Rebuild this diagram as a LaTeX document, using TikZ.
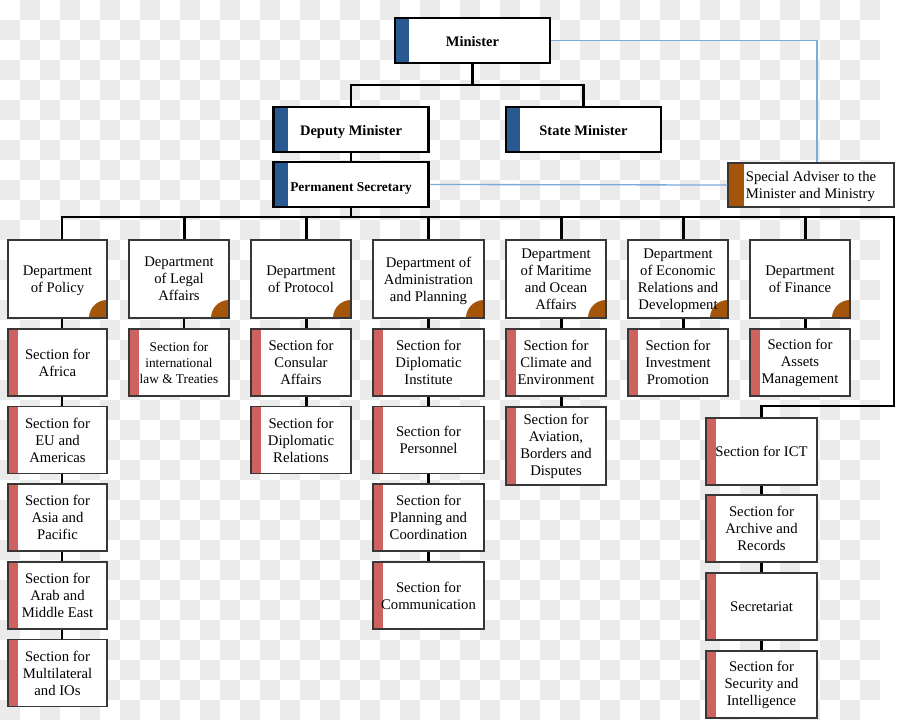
\documentclass[tikz,border=0pt]{standalone}
\usepackage{fontspec}
\setmainfont{Liberation Serif}
\definecolor{chk}{RGB}{235,235,235}
\definecolor{sblue}{RGB}{40,90,145}
\definecolor{sbrown}{RGB}{165,85,10}
\definecolor{sred}{RGB}{205,98,95}
\definecolor{lblue}{RGB}{125,170,220}
\definecolor{bord}{RGB}{55,55,55}
\tikzset{
  topbox/.style={draw=black, line width=2.8pt, fill=white, inner sep=0pt, align=center,
    minimum width=155pt, minimum height=45pt, text height=12pt, text depth=0pt,
    font=\fontsize{14.5}{17}\selectfont\bfseries,
    path picture={\fill[sblue] (path picture bounding box.north west) rectangle ([xshift=14pt]path picture bounding box.south west);}},
  advbox/.style={draw=bord, line width=1.4pt, fill=white, inner sep=0pt, align=left,
    minimum width=166pt, minimum height=44pt, text depth=-1pt,
    font=\fontsize{14.7}{17}\selectfont,
    path picture={\fill[sbrown] (path picture bounding box.north west) rectangle ([xshift=16pt]path picture bounding box.south west);}},
  deptbox/.style={draw=bord, line width=1.4pt, fill=white, inner sep=0pt, align=center,
    minimum width=100pt, minimum height=78pt, text depth=-1.5pt,
    font=\fontsize{14.7}{17}\selectfont,
    path picture={\fill[sbrown] (path picture bounding box.south east) circle[radius=18pt];}},
  secbox/.style={draw=bord, line width=1.4pt, fill=white, inner sep=0pt, align=center,
    minimum width=100pt, minimum height=67pt,
    font=\fontsize{14.7}{17}\selectfont,
    path picture={\fill[sred] (path picture bounding box.north west) rectangle ([xshift=10pt]path picture bounding box.south west);}},
  conn/.style={draw=black, line width=2.6pt},
  advline/.style={draw=lblue, line width=1.3pt},
}
\begin{document}
\begin{tikzpicture}[x=1pt,y=-1pt]
\useasboundingbox (0,0) rectangle (900,720);
% checkerboard background
\fill[white] (0,0) rectangle (900,720);
\foreach \j in {0,...,35}{
  \pgfmathsetmacro\s{mod(\j+1,2)*20}
  \foreach \i in {0,40,...,860}{
    \fill[chk] (\i+\s,\j*20) rectangle ++(20,20);
  }
}
% bus coordinates
\coordinate (yA) at (0,85);
\coordinate (yB) at (0,217);
\coordinate (rb) at (894,217);
\coordinate (rc) at (894,406);

% top level
\node[topbox] (min) at (472.5,40.5) {Minister};
\node[topbox] (dep) at (351,129.5) {Deputy Minister};
\node[topbox] (sta) at (583.5,129.5) {State Minister};
\node[topbox, font=\fontsize{13.4}{16}\selectfont\bfseries, text height=14pt] (ps) at (351,184.5) {Permanent Secretary};
\node[advbox] (adv) at (811,185) {Special Adviser to the\\Minister and Ministry};

% departments
\node[deptbox, minimum width=99pt] (dpol) at (57.5,279) {Department\\of Policy};
\node[deptbox] (dleg) at (179,279) {Department\\of Legal\\Affairs};
\node[deptbox] (dpro) at (301,279) {Department\\of Protocol};
\node[deptbox, minimum width=111pt] (dadm) at (428.5,279) {Department of\\Administration\\and Planning};
\node[deptbox] (dmar) at (556,279) {Department\\of Maritime\\and Ocean\\Affairs};
\node[deptbox] (deco) at (678,279) {Department\\of Economic\\Relations and\\Development};
\node[deptbox] (dfin) at (800,279) {Department\\of Finance};

% policy sections
\node[secbox, minimum width=99pt] (s11) at (57.5,362.5) {Section for\\Africa};
\node[secbox, minimum width=99pt] (s12) at (57.5,440) {Section for\\EU and\\Americas};
\node[secbox, minimum width=99pt] (s13) at (57.5,517.5) {Section for\\Asia and\\Pacific};
\node[secbox, minimum width=99pt] (s14) at (57.5,595.5) {Section for\\Arab and\\Middle East};
\node[secbox, minimum width=99pt] (s15) at (57.5,673) {Section for\\Multilateral\\and IOs};
% legal
\node[secbox, font=\fontsize{13.3}{16}\selectfont] (s21) at (179,362.5) {Section for\\international\\law \& Treaties};
% protocol
\node[secbox] (s31) at (301,362.5) {Section for\\Consular\\Affairs};
\node[secbox] (s32) at (301,440) {Section for\\Diplomatic\\Relations};
% administration
\node[secbox, minimum width=111pt] (s41) at (428.5,362.5) {Section for\\Diplomatic\\Institute};
\node[secbox, minimum width=111pt] (s42) at (428.5,440) {Section for\\Personnel};
\node[secbox, minimum width=111pt] (s43) at (428.5,517.5) {Section for\\Planning and\\Coordination};
\node[secbox, minimum width=111pt] (s44) at (428.5,595.5) {Section for\\Communication};
% maritime
\node[secbox] (s51) at (556,362.5) {Section for\\Climate and\\Environment};
\node[secbox, minimum height=78pt] (s52) at (556,446) {Section for\\Aviation,\\Borders and\\Disputes};
% economic
\node[secbox] (s61) at (678,362.5) {Section for\\Investment\\Promotion};
% finance
\node[secbox] (s71) at (800,362.5) {Section for\\Assets\\Management};
% right column
\node[secbox, minimum width=111pt] (s81) at (761.5,451.5) {Section for ICT};
\node[secbox, minimum width=111pt] (s82) at (761.5,528.5) {Section for\\Archive and\\Records};
\node[secbox, minimum width=111pt] (s83) at (761.5,606.5) {Secretariat};
\node[secbox, minimum width=111pt] (s84) at (761.5,684.5) {Section for\\Security and\\Intelligence};

% connectors top
\draw[conn] (min.south) -- (min.south |- yA);
\draw[conn] (dep.north) |- (min.south |- yA) -| (sta.north);
\draw[conn] (dep.south) -- (ps.north);
\draw[conn] (ps.south) -- (ps.south |- yB);
% main bus
\draw[conn] ([xshift=4.5pt]dpol.north) |- (rb) -- (rc) -| (s81.north);
\foreach \d in {dleg,dpro,dmar,deco,dfin}{
  \draw[conn] ([xshift=5.5pt]\d.north) -- ([xshift=5.5pt]\d.north |- yB);
}
\draw[conn] (dadm.north) -- (dadm.north |- yB);
% section stems
\draw[conn] ([xshift=4.5pt]dpol.south) -- ([xshift=4.5pt]s11.north);
\draw[conn] ([xshift=4.5pt]s11.south) -- ([xshift=4.5pt]s12.north);
\draw[conn] ([xshift=4.5pt]s12.south) -- ([xshift=4.5pt]s13.north);
\draw[conn] ([xshift=4.5pt]s13.south) -- ([xshift=4.5pt]s14.north);
\draw[conn] ([xshift=4.5pt]s14.south) -- ([xshift=4.5pt]s15.north);
\draw[conn] ([xshift=5pt]dleg.south) -- ([xshift=5pt]s21.north);
\draw[conn] ([xshift=5.5pt]dpro.south) -- ([xshift=5.5pt]s31.north);
\draw[conn] ([xshift=5.5pt]s31.south) -- ([xshift=5.5pt]s32.north);
\draw[conn] (dadm.south) -- (s41.north);
\draw[conn] (s41.south) -- (s42.north);
\draw[conn] (s42.south) -- (s43.north);
\draw[conn] (s43.south) -- (s44.north);
\draw[conn] ([xshift=5.5pt]dmar.south) -- ([xshift=5.5pt]s51.north);
\draw[conn] ([xshift=5.5pt]s51.south) -- ([xshift=5.5pt]s52.north);
\draw[conn] ([xshift=5.5pt]deco.south) -- ([xshift=5.5pt]s61.north);
\draw[conn] ([xshift=5.5pt]dfin.south) -- ([xshift=5.5pt]s71.north);
\draw[conn] (s81.south) -- (s82.north);
\draw[conn] (s82.south) -- (s83.north);
\draw[conn] (s83.south) -- (s84.north);
% adviser lines
\draw[advline] (min.east) -| ([xshift=6pt]adv.north);
\draw[advline] (ps.east) -- (adv.west);
\end{tikzpicture}
\end{document}
